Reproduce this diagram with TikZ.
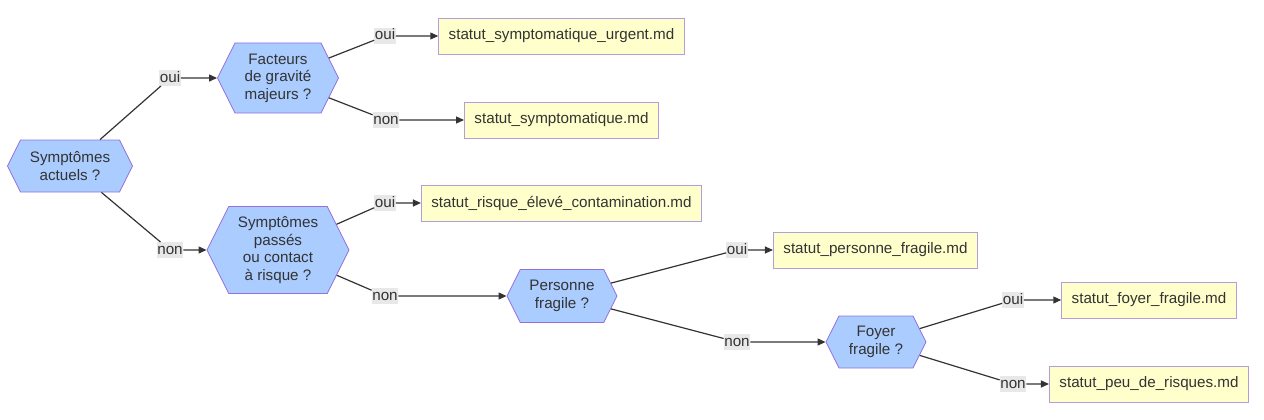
\documentclass[tikz,border=0pt]{standalone}
\usepackage{fontspec}
\setmainfont{Liberation Sans}
\usetikzlibrary{shapes.symbols,arrows.meta}
\definecolor{hexfill}{HTML}{AACCFF}
\definecolor{hexline}{HTML}{9370DB}
\definecolor{boxline}{HTML}{B39DDB}
\definecolor{boxfill}{HTML}{FFFFCC}
\definecolor{txt}{HTML}{333333}
\definecolor{lblbg}{HTML}{E8E8E8}
\begin{document}
\begin{tikzpicture}[x=1pt,y=-1pt,
  every node/.style={font=\fontsize{15.2}{17.5}\selectfont, text=txt},
  hexa/.style={signal, signal to=west and east, signal pointer angle=126.87, draw=hexline, fill=hexfill, line width=0.8pt, inner sep=0pt, align=center},
  filebox/.style={rectangle, draw=boxline, fill=boxfill, line width=0.9pt, inner xsep=10pt, inner ysep=0pt, minimum height=36pt},
  lbl/.style={fill=lblbg, inner xsep=0.5pt, inner ysep=0pt, text height=11.8pt, text depth=3.8pt},
  arr/.style={draw=txt, line width=1.2pt, -{Triangle[length=8pt,width=7pt]}}]
\useasboundingbox (0,0) rectangle (1264,420);
% decision nodes
\node[hexa, minimum width=125pt, minimum height=52pt] (A) at (70,166) {Symptômes\\actuels ?};
\node[hexa, minimum width=121pt, minimum height=70pt] (B) at (278,78) {Facteurs\\de gravité\\majeurs ?};
\node[hexa, minimum width=142pt, minimum height=87pt] (C) at (278,250) {Symptômes\\passés\\ou contact\\à risque ?};
\node[hexa, minimum width=110pt, minimum height=53pt] (D) at (562,296) {Personne\\fragile ?};
\node[hexa, minimum width=100pt, minimum height=52pt] (E) at (876,342) {Foyer\\fragile ?};
% result boxes
\node[filebox] (R1) at (561.5,36) {statut\_symptomatique\_urgent.md};
\node[filebox] (R2) at (561.5,120) {statut\_symptomatique.md};
\node[filebox] (R3) at (561.5,203) {statut\_risque\_élevé\_contamination.md};
\node[filebox] (R4) at (875.5,250) {statut\_personne\_fragile.md};
\node[filebox] (R5) at (1149,300) {statut\_foyer\_fragile.md};
\node[filebox] (R6) at (1149,384) {statut\_peu\_de\_risques.md};
% edge labels
\node[lbl] (l1) at (170,78) {oui};
\node[lbl] (l2) at (170,250) {non};
\node[lbl] (l3) at (385,36) {oui};
\node[lbl] (l4) at (386,120) {non};
\node[lbl] (l5) at (385,203) {oui};
\node[lbl] (l6) at (385,296) {non};
\node[lbl] (l7) at (737,250) {oui};
\node[lbl] (l8) at (737,342) {non};
\node[lbl] (l9) at (1013,300) {oui};
\node[lbl] (l10) at (1013,384) {non};
% edges
\draw[arr] (A) -- (l1) -- (B);
\draw[arr] (A) -- (l2) -- (C);
\draw[arr] (B) -- (l3) -- (R1);
\draw[arr] (B) -- (l4) -- (R2);
\draw[arr] (C) -- (l5) -- (R3);
\draw[arr] (C) -- (l6) -- (D);
\draw[arr] (D) -- (l7) -- (R4);
\draw[arr] (D) -- (l8) -- (E);
\draw[arr] (E) -- (l9) -- (R5);
\draw[arr] (E) -- (l10) -- (R6);
\end{tikzpicture}
\end{document}
